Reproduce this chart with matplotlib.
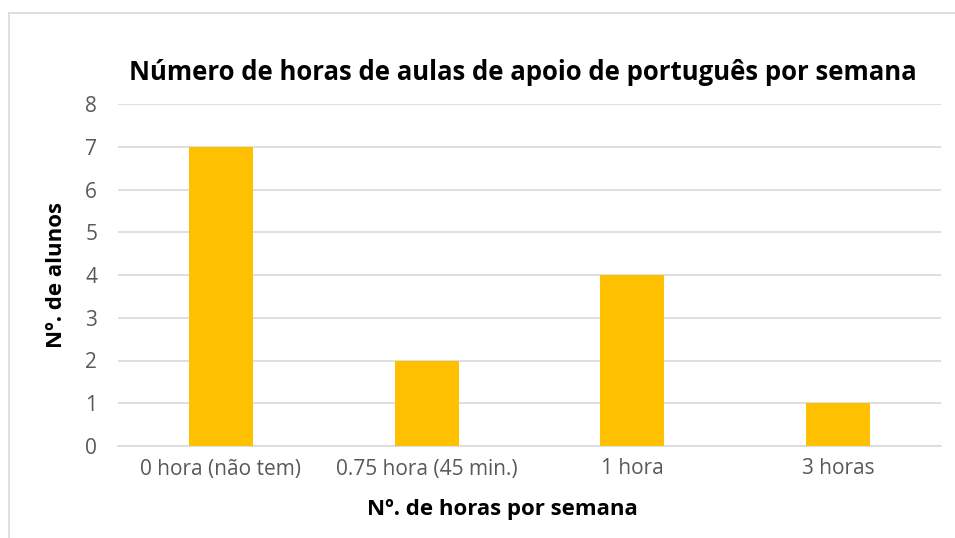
import numpy as np
import matplotlib.pyplot as plt
from matplotlib.lines import Line2D

categories = ['0 hora (não tem)', '0.75 hora (45 min.)', '1 hora', '3 horas']
alunos = [7, 2, 4, 1]

plt.rcParams['font.family'] = ['Open Sans', 'DejaVu Sans']

fig = plt.figure(figsize=(9.55, 5.38), dpi=100)
ax = fig.add_axes([118/955, 1 - 446/538, (941 - 118)/955, (446 - 104)/538])

x = np.arange(len(categories))
ax.bar(x, alunos, width=0.31, color='#FFC000', zorder=3)

ax.set_xlim(-0.5, len(categories) - 0.5)
ax.set_ylim(0, 8)
ax.set_yticks(range(0, 9))
ax.set_xticks(x)
ax.set_xticklabels(categories)
ax.yaxis.grid(True, color='#d9d9d9', linewidth=1.2, zorder=0)
for s in ['top', 'right', 'left']:
    ax.spines[s].set_visible(False)
ax.spines['bottom'].set_color('#d9d9d9')
ax.spines['bottom'].set_linewidth(1.2)
ax.tick_params(axis='both', length=0, labelsize=15, labelcolor='#595959')
ax.tick_params(axis='x', pad=9)
ax.tick_params(axis='y', pad=15)

fig.text(523/955, 1 - 72/538, 'Número de horas de aulas de apoio de português por semana',
         ha='center', va='center', fontsize=18.5, fontweight='bold', color='black')
fig.text(502/955, 1 - 509/538, 'Nº. de horas por semana', ha='center', va='center',
         fontsize=16, fontweight='bold', color='black')
fig.text(57/955, 1 - 275/538, 'Nº. de alunos', ha='center', va='center', rotation=90,
         fontsize=16, fontweight='bold', color='black')

# outer chart border (top and left only visible)
fig.add_artist(Line2D([9/955, 1], [1 - 13/538, 1 - 13/538], color='#d9d9d9', linewidth=1.2))
fig.add_artist(Line2D([9/955, 9/955], [0, 1 - 13/538], color='#d9d9d9', linewidth=1.2))

fig.savefig('out.png', dpi=100)
